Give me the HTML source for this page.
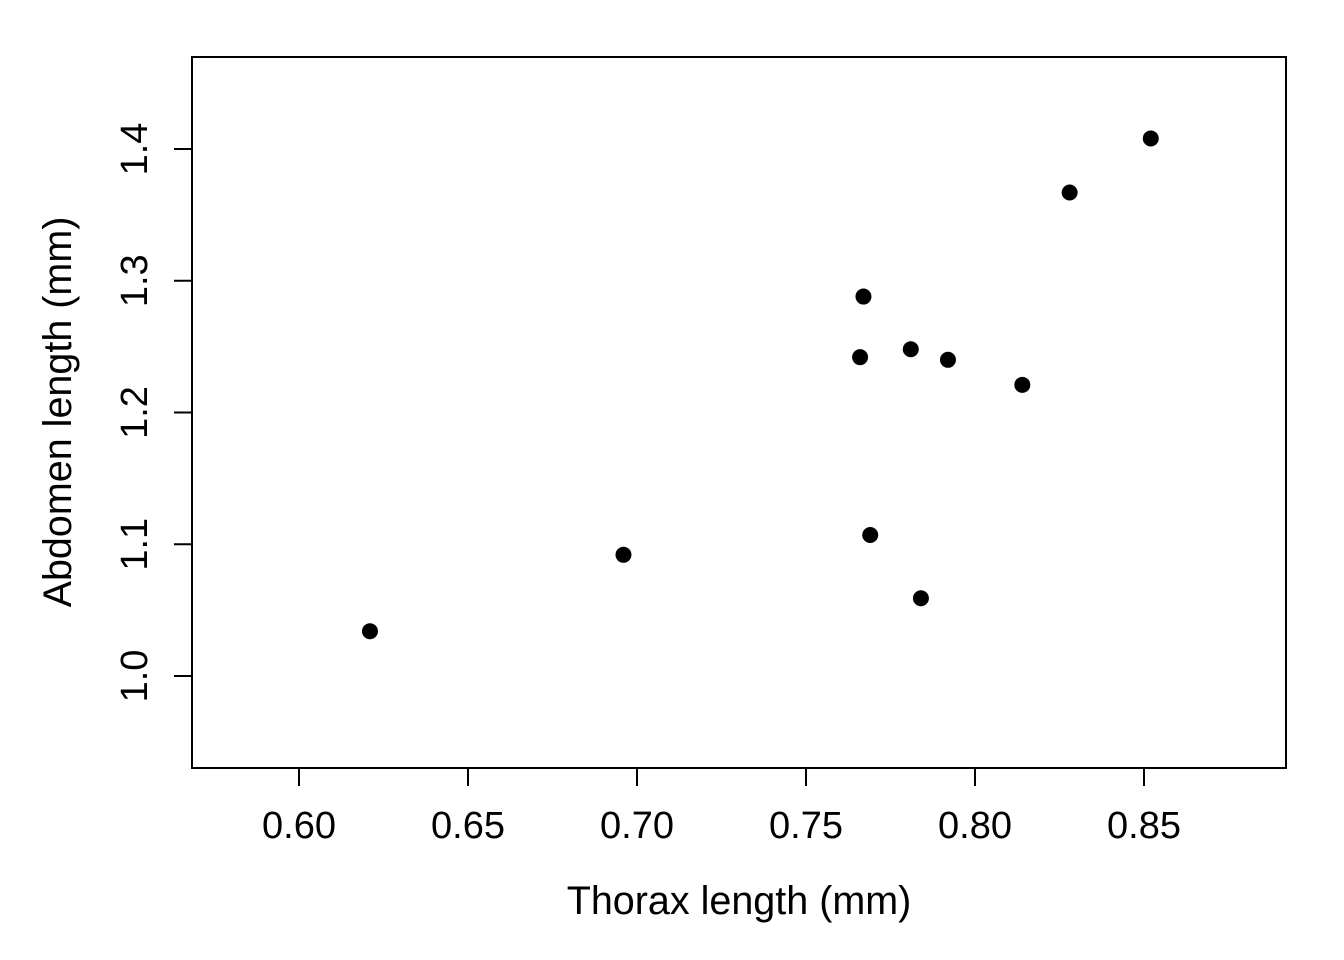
<!DOCTYPE html>
<html><head><meta charset="utf-8"><style>
html,body{margin:0;padding:0;background:#fff;}
svg{display:block;font-family:"Liberation Sans",Arial,sans-serif;}
</style></head><body>
<svg id="chart" width="1344" height="960">
<rect x="192" y="57" width="1094" height="711" fill="none" stroke="#000" stroke-width="2"/>
<g id="xaxis"></g>
<g id="yaxis"></g>
<g id="points"></g>
<text x="739" y="914" font-size="39.5" text-anchor="middle">Thorax length (mm)</text>
<text transform="translate(71,412) rotate(-90)" font-size="39.5" text-anchor="middle">Abdomen length (mm)</text>
</svg>
<script>
const thorax = [0.621, 0.696, 0.767, 0.766, 0.781, 0.792, 0.814, 0.769, 0.784, 0.828, 0.852];
const abdomen = [1.034, 1.092, 1.288, 1.242, 1.248, 1.240, 1.221, 1.107, 1.059, 1.367, 1.408];
const xTicks = [0.60, 0.65, 0.70, 0.75, 0.80, 0.85];
const xTickLabels = ["0.60", "0.65", "0.70", "0.75", "0.80", "0.85"];
const yTicks = [1.0, 1.1, 1.2, 1.3, 1.4];
const yTickLabels = ["1.0", "1.1", "1.2", "1.3", "1.4"];

const NS = "http://www.w3.org/2000/svg";
function sx(v){ return 299 + (v - 0.60) * 3380; }
function sy(v){ return 676 - (v - 1.0) * 1317.5; }
function mk(tag, attrs, parent){
  const e = document.createElementNS(NS, tag);
  for (const k in attrs) e.setAttribute(k, attrs[k]);
  parent.appendChild(e);
  return e;
}
const xg = document.getElementById("xaxis");
const yg = document.getElementById("yaxis");
const pg = document.getElementById("points");
mk("line", {x1: sx(xTicks[0]), x2: sx(xTicks[xTicks.length-1]), y1: 768, y2: 768, stroke: "#000", "stroke-width": 2}, xg);
xTicks.forEach((t, i) => {
  const l = mk("line", {x1: sx(t), x2: sx(t), y1: 768, y2: 786, stroke: "#000", "stroke-width": 2}, xg);
  
  
  const tx = mk("text", {x: sx(t), y: 838, "font-size": 38, "text-anchor": "middle"}, xg);
  tx.textContent = xTickLabels[i];
  
  
});
mk("line", {x1: 192, x2: 192, y1: sy(yTicks[0]), y2: sy(yTicks[yTicks.length-1]), stroke: "#000", "stroke-width": 2}, yg);
yTicks.forEach((t, i) => {
  const l = mk("line", {x1: 174, x2: 192, y1: sy(t), y2: sy(t), stroke: "#000", "stroke-width": 2}, yg);
  
  
  const tx = mk("text", {transform: "translate(147," + sy(t) + ") rotate(-90)", "font-size": 38, "text-anchor": "middle"}, yg);
  tx.textContent = yTickLabels[i];
  
  
});
thorax.forEach((v, i) => {
  const c = mk("circle", {cx: sx(v), cy: sy(abdomen[i]), r: 8, fill: "#000"}, pg);
  
  
});
</script>
</body></html>
